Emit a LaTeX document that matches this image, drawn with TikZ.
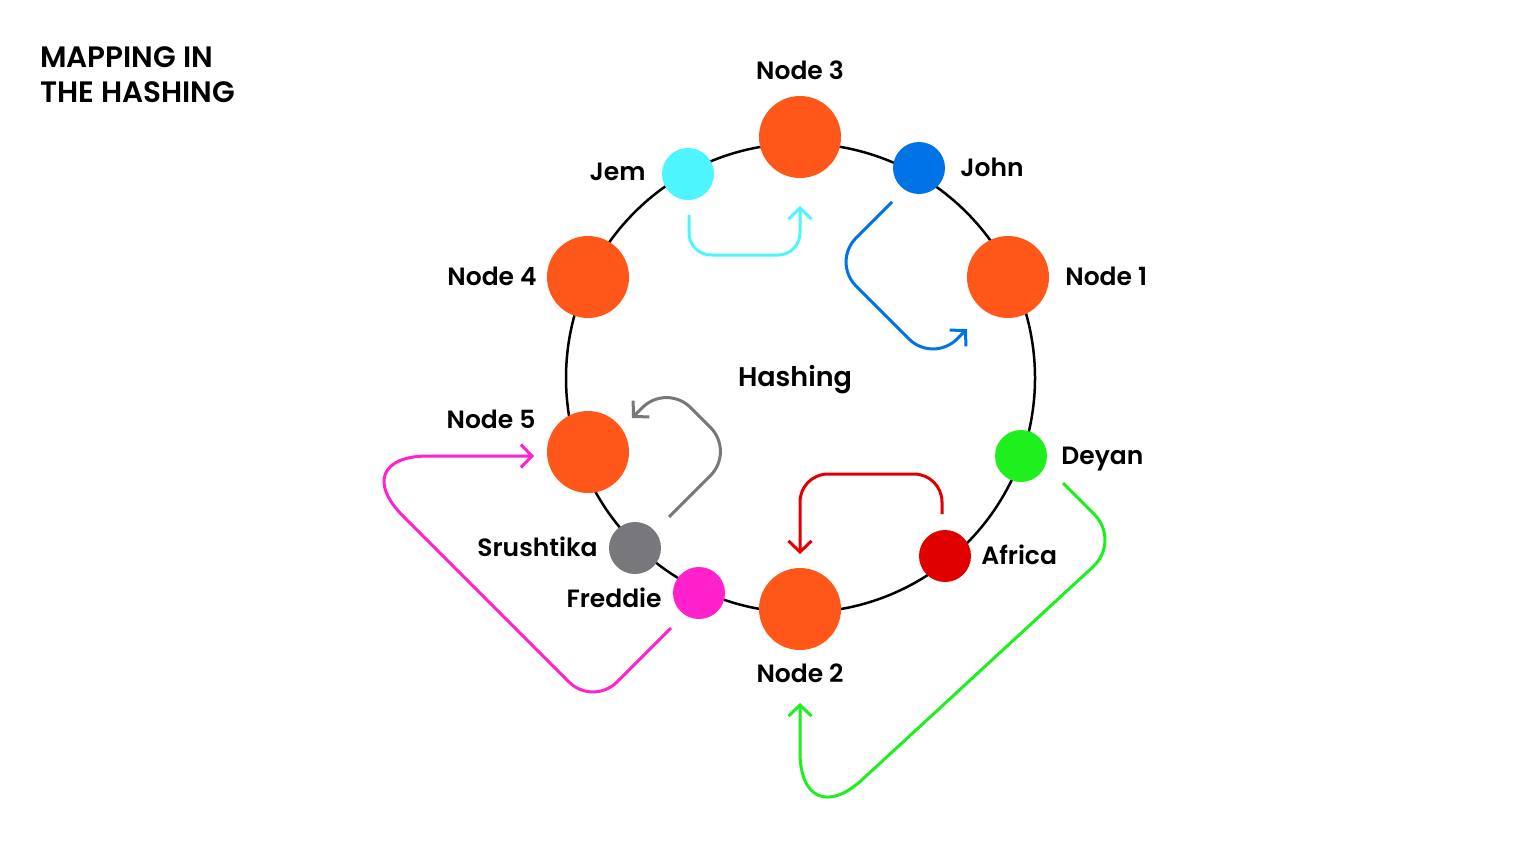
\documentclass[tikz,border=0pt]{standalone}
\usepackage{fontspec}
\setmainfont{Poppins}[BoldFont={* SemiBold}]
\usepackage{tikz}
\usetikzlibrary{positioning, arrows.meta}

\definecolor{nodeOrange}{HTML}{FF5719}
\definecolor{jemCyan}{HTML}{4DF5FF}
\definecolor{johnBlue}{HTML}{0073E6}
\definecolor{deyanGreen}{HTML}{1EF01E}
\definecolor{africaRed}{HTML}{E10000}
\definecolor{srushGray}{HTML}{78787C}
\definecolor{freddiePink}{HTML}{FF22CC}

\tikzset{
  ring/.style={line width=2.5pt, black},
  bigDot/.style={circle, fill=nodeOrange, minimum size=82pt, inner sep=0pt},
  keyDot/.style={circle, fill=#1, minimum size=52pt, inner sep=0pt},
  lbl/.style={font=\fontsize{25}{30}\selectfont\bfseries, inner sep=0pt,
    text height=17.7pt, text depth=0pt},
  hop/.style={draw=#1, line width=3pt,
    -{Straight Barb[length=11pt, width=23pt]}},
}

\begin{document}
\begin{tikzpicture}[x=1pt, y=-1pt]
    \useasboundingbox (0,0) rectangle (1520,849);

    % title
    \node[anchor=base west, inner sep=0pt, align=left,
      font=\fontsize{29.5}{35}\selectfont\bfseries] (title) at (40,102)
      {MAPPING IN\\THE HASHING};

    % the ring
    \draw[ring] (800.5,378) circle [radius=234.5pt];
    \node[lbl, font=\fontsize{27}{30}\selectfont\bfseries] (hashing)
      at (795,378) {Hashing};

    % servers
    \node[bigDot] (n3) at (800,137) {};
    \node[bigDot] (n1) at (1008,277) {};
    \node[bigDot] (n4) at (588,277) {};
    \node[bigDot] (n5) at (588,452) {};
    \node[bigDot] (n2) at (800,609) {};

    \node[lbl, above=16pt of n3] (n3Text) {Node 3};
    \node[lbl, right=16pt of n1] (n1Text) {Node 1};
    \node[lbl, left=10pt of n4] (n4Text) {Node 4};
    \node[lbl] (n5Text) at (491,420) {Node 5};
    \node[lbl, below=14pt of n2] (n2Text) {Node 2};

    % keys
    \node[keyDot=jemCyan] (jem) at (688,174) {};
    \node[keyDot=johnBlue] (john) at (919,168) {};
    \node[keyDot=deyanGreen] (deyan) at (1021,456) {};
    \node[keyDot=africaRed] (africa) at (945,556) {};
    \node[keyDot=srushGray] (srush) at (635,548) {};
    \node[keyDot=freddiePink] (freddie) at (699,593) {};

    \node[lbl, left=16pt of jem, yshift=2pt] (jemText) {Jem};
    \node[lbl, right=15pt of john] (johnText) {John};
    \node[lbl, right=14pt of deyan] (deyanText) {Deyan};
    \node[lbl, right=10pt of africa] (africaText) {Africa};
    \node[lbl, left=11pt of srush] (srushText) {Srushtika};
    \node[lbl, left=11pt of freddie, yshift=-6pt] (freddieText) {Freddie};

    % where each key goes
    \coordinate (jemFrom) at (689,215);
    \coordinate (jemTo) at (800,206);
    \coordinate (johnFrom) at (892,202);
    \coordinate (johnTo) at (967,329);
    \coordinate (srushFrom) at (669,517);
    \coordinate (srushTo) at (632,418);
    \coordinate (africaFrom) at (942,514);
    \coordinate (africaTo) at (800,554);
    \coordinate (deyanFrom) at (1063,483);
    \coordinate (deyanTo) at (800,703);
    \coordinate (freddieFrom) at (671,628);
    \coordinate (freddieTo) at (534,456);

    \draw[hop=jemCyan, rounded corners=22pt]
      (jemFrom) -- (689,255) -- (800,255) -- (jemTo);
    \draw[hop=johnBlue, rounded corners=34pt]
      (johnFrom) -- (832,262) -- (933,363) -- (johnTo);
    \draw[hop=srushGray, rounded corners=34pt]
      (srushFrom) -- (734.5,451.5) -- (666.5,383.5) -- (srushTo);
    \draw[hop=africaRed, rounded corners=28pt]
      (africaFrom) -- (942,474) -- (800,474) -- (africaTo);
    \draw[hop=deyanGreen]
      (deyanFrom) [rounded corners=38pt] -- (1121,541)
      [rounded corners=85pt] -- (800,837) -- (deyanTo);
    \draw[hop=freddiePink]
      (freddieFrom) [rounded corners=34pt] -- (593,706)
      [rounded corners=85pt] -- (343,456) -- (freddieTo);
\end{tikzpicture}
\end{document}
